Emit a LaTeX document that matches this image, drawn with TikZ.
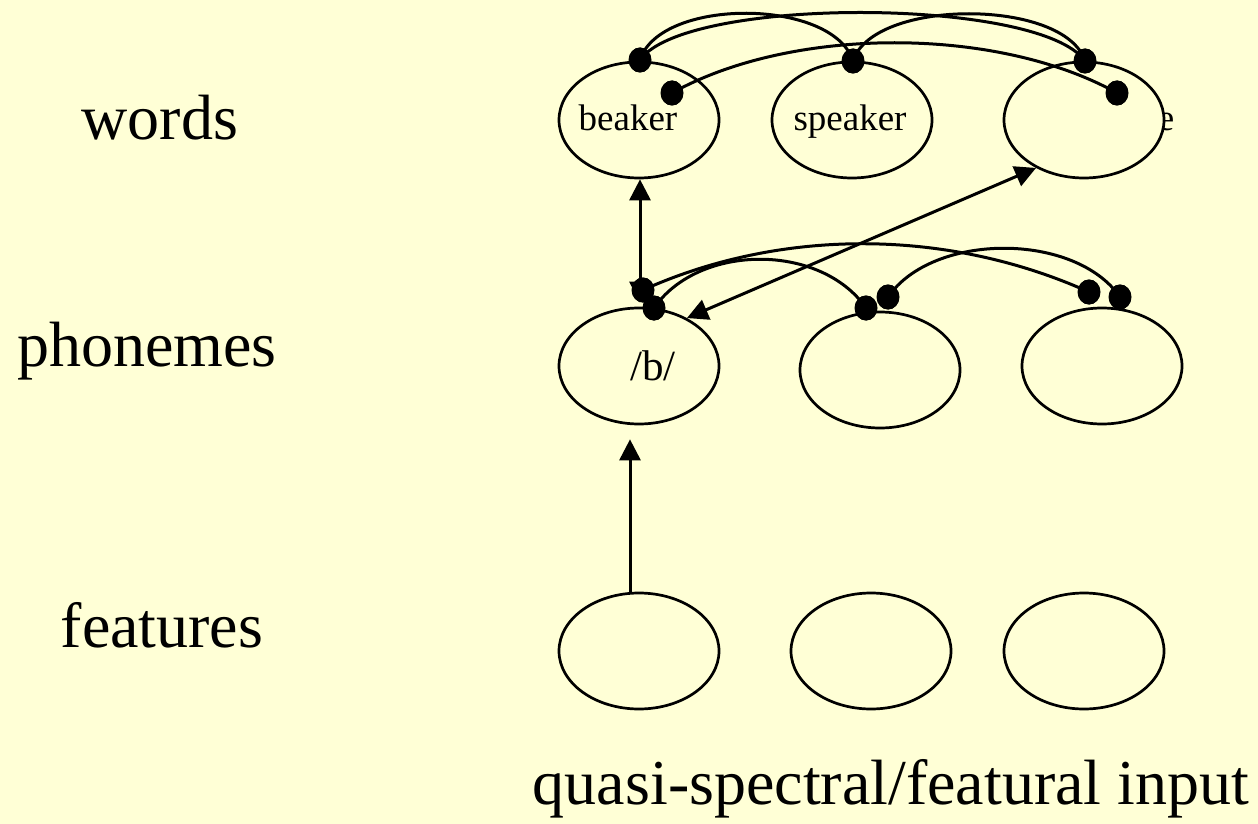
\documentclass[tikz,border=0pt]{standalone}
\usepackage{fontspec}
\setmainfont{Liberation Serif}
\usetikzlibrary{shapes.geometric,arrows.meta}
\definecolor{bg}{RGB}{255,255,214}

\begin{document}
\begin{tikzpicture}[x=1pt,y=-1pt,
    unit/.style={draw,ellipse,line width=2.7pt,fill=bg,inner sep=0pt,
                 minimum width=160pt,minimum height=116pt},
    word/.style={anchor=base,inner sep=0pt,font=\fontsize{37}{40}\selectfont},
    inh/.style={fill,ellipse,inner sep=0pt,minimum width=22pt,minimum height=25pt},
    link/.style={line width=3pt},
    head/.tip={Triangle[length=21pt,width=21pt]},
    tip/.style={line width=3pt,-head},
    tips/.style={line width=3pt,head-head},
    lev/.style={font=\fontsize{64}{72}\selectfont}]
  \fill[bg] (0,0) rectangle (1258,824);
  \useasboundingbox (0,0) rectangle (1258,824);

  % level labels
  \node[lev] (lw) at (160,118) {words};
  \node[lev] (lp) at (147,351) {phonemes};
  \node[lev] (lf) at (162,625) {features};
  \node[lev] (li) at (891,789) {quasi-spectral/featural input};

  % units
  \node[word] (tail) at (1166,131) {e};
  \node[unit] (w1) at (639,120) {};
  \node[unit] (w2) at (852,120) {};
  \node[unit] (w3) at (1084,120) {};
  \node[unit] (p1) at (639,366) {};
  \node[unit] (p2) at (880,370) {};
  \node[unit] (p3) at (1102,366) {};
  \node[unit] (f1) at (639,651) {};
  \node[unit] (f2) at (871,651) {};
  \node[unit] (f3) at (1084,651) {};
  \node[word] (tw1) at (628,131) {beaker};
  \node[word] (tw2) at (850,131) {speaker};
  \node[word,font=\fontsize{43}{46}\selectfont] (tp1) at (653,380) {/b/};

  % inhibitory ends
  \node[inh] (wa) at (640,60) {};
  \node[inh] (wb) at (672,93) {};
  \node[inh] (wc) at (853,61) {};
  \node[inh] (wd) at (1085,61) {};
  \node[inh] (we) at (1117,93) {};
  \node[inh] (pa) at (643,290) {};
  \node[inh] (pb) at (654,308) {};
  \node[inh] (pc) at (866,308) {};
  \node[inh] (pd) at (888,297) {};
  \node[inh] (pe) at (1089,292) {};
  \node[inh] (pf) at (1120,297) {};

  % word competition
  \draw[link] (wa.center) .. controls +(20,-63) and +(-20,-63) .. (wc.center);
  \draw[link] (wa.center) .. controls +(45,-64) and +(-45,-64) .. (wd.center);
  \draw[link] (wc.center) .. controls +(20,-63) and +(-20,-63) .. (wd.center);
  \draw[link] (wb.center) .. controls +(120,-67) and +(-120,-67) .. (we.center);

  % phoneme competition
  \draw[link] (pa.center) .. controls +(140,-63) and +(-140,-63) .. (pe.center);
  \draw[link] (pb.center) .. controls +(45,-65) and +(-45,-65) .. (pc.center);
  \draw[link] (pd.center) .. controls +(45,-65) and +(-45,-65) .. (pf.center);

  % excitatory links
  \draw[tips] ([xshift=1pt]w1.south) -- ([xshift=1pt,yshift=4pt]p1.north);
  \draw[tips] (w3.225) -- (p1.45);
  \draw[tip] ([xshift=-9pt]f1.north) -- ([xshift=-9pt,yshift=-14pt]p1.south);

  % dots on top
  \foreach \d in {wa,wb,wc,wd,we,pa,pb,pc,pd,pe,pf}
    \fill (\d) ellipse (11.5pt and 12.5pt);
\end{tikzpicture}
\end{document}
